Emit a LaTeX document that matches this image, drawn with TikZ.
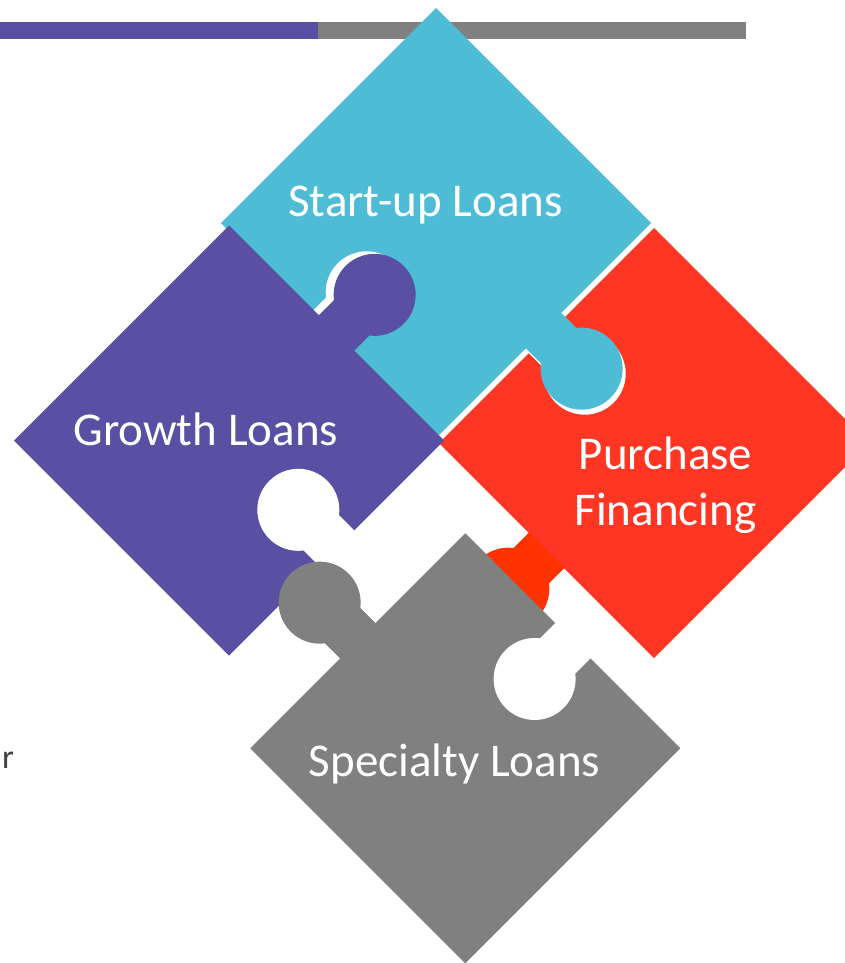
\documentclass[tikz,border=0pt]{standalone}
\usepackage{fontspec}
\setmainfont{Carlito}
\definecolor{pblue}{RGB}{79,188,214}
\definecolor{ppurple}{RGB}{89,79,163}
\definecolor{pred}{RGB}{255,54,35}
\definecolor{pknob}{RGB}{255,51,0}
\definecolor{pgray}{RGB}{128,128,128}
\definecolor{ptext}{RGB}{64,64,64}
\newcommand{\hh}{152.03}
\newcommand{\pzknob}[2]{\begin{scope}[rotate=#1]\fill[#2] (151.5,-25) -- (173.5,-25) arc[start angle=-142.4,end angle=142.4,radius=41] -- (151.5,25) -- cycle;\end{scope}}
\newcommand{\pzhole}[1]{\begin{scope}[rotate=#1]\fill[white] (98.03,0) circle[radius=41];\fill[white] (98.03,-25) rectangle (153,25);\end{scope}}
\tikzset{
  lbl/.style={text=white, inner sep=0pt, font=\fontsize{47}{56.4}\selectfont, align=center},
  sidetext/.style={text=ptext, inner sep=0pt, font=\fontsize{34}{40}\selectfont}
}
\begin{document}
\begin{tikzpicture}[x=1pt,y=1pt]
\useasboundingbox (0,0) rectangle (844,-963);
% top bar
\fill[ppurple] (0,-22) rectangle (318,-39);
\fill[pgray] (318,-22) rectangle (746,-39);
% red piece
\begin{scope}[shift={(654,-443)}, rotate=45]
  \fill[pred] (-\hh,-\hh) rectangle (\hh,\hh);
  \pzknob{180}{pknob}
  \pzhole{90}
\end{scope}
% blue piece
\begin{scope}[shift={(436,-223)}, rotate=45]
  \fill[pblue] (-\hh,-\hh) rectangle (\hh,\hh);
  \pzknob{270}{pblue}
  \pzhole{180}
\end{scope}
% purple piece
\begin{scope}[shift={(229,-440.5)}, rotate=45]
  \fill[ppurple] (-\hh,-\hh) rectangle (\hh,\hh);
  \pzknob{0}{ppurple}
  \pzhole{270}
\end{scope}
% gray piece
\begin{scope}[shift={(465.3,-748.3)}, rotate=45]
  \fill[pgray] (-\hh,-\hh) rectangle (\hh,\hh);
  \pzknob{90}{pgray}
  \pzhole{0}
\end{scope}
% labels
\node[lbl, anchor=base] (startup) at (425.5,-216.7) {Start-up Loans};
\node[lbl, anchor=base] (growth) at (205.8,-445.7) {Growth Loans};
\node[lbl, anchor=base] (purchase) at (665.5,-525.7) {Purchase\\Financing};
\node[lbl, anchor=base] (specialty) at (454.5,-776) {Specialty Loans};
\node[sidetext, anchor=base west] (side) at (2,-768) {r};
\end{tikzpicture}
\end{document}
